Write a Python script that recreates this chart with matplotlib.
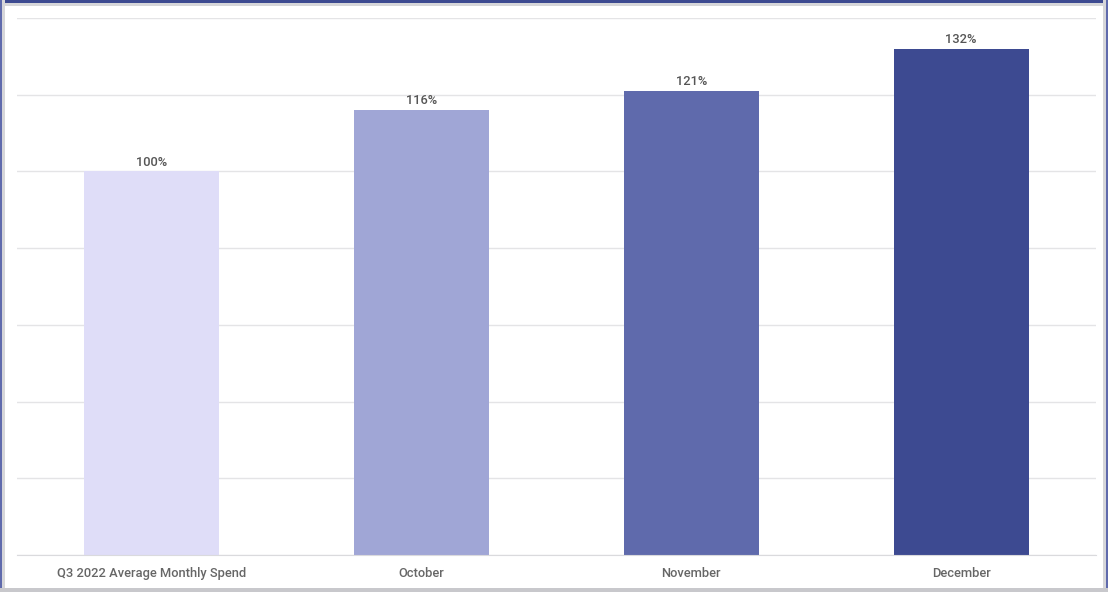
import matplotlib
matplotlib.use("Agg")
import matplotlib.pyplot as plt
from matplotlib.patches import Rectangle

categories = ["Q3 2022 Average Monthly Spend", "October", "November", "December"]
values = [100, 116, 121, 132]
colors = ["#DFDDF8", "#A0A6D6", "#5F6AAC", "#3D4A91"]

plt.rcParams["font.family"] = ["Roboto", "DejaVu Sans"]

W, H = 1108, 592
fig = plt.figure(figsize=(W / 100, H / 100), dpi=100)
fig.patch.set_facecolor("white")

# frame around the card
def px_rect(x, y, w, h, color):
    fig.patches.append(Rectangle((x / W, 1 - (y + h) / H), w / W, h / H,
                                 transform=fig.transFigure, color=color, zorder=0, lw=0))

px_rect(0, 0, W, 6, "#D6D6D9")
px_rect(0, 0, W, 3, "#3D4A91")
px_rect(0, 0, 5, H, "#D6D6D9")
px_rect(0, 0, 2, H, "#5F6AAC")
px_rect(W - 5, 0, 5, H, "#D6D6D9")
px_rect(W - 2, 0, 2, H, "#5F6AAC")
px_rect(0, H - 4, W, 4, "#C8C8CC")

ax = fig.add_axes([17 / W, 1 - 555 / H, 1079 / W, 537 / H])
x = range(len(categories))
bars = ax.bar(x, values, width=0.5, color=colors, zorder=2)
ax.set_xlim(-0.5, len(categories) - 0.5)
ax.set_ylim(0, 140)
ax.set_yticks(range(0, 141, 20))
ax.yaxis.grid(True, color="#E4E4E6", lw=1, zorder=0)
ax.tick_params(axis="y", left=False, labelleft=False)
ax.tick_params(axis="x", bottom=False, labelsize=9.3, labelcolor="#666666", pad=5)
ax.set_xticks(list(x))
ax.set_xticklabels(categories, fontweight="medium")
for side in ["top", "right", "left"]:
    ax.spines[side].set_visible(False)
ax.spines["bottom"].set_color("#DADADD")

for b, v in zip(bars, values):
    ax.annotate(f"{v}%", (b.get_x() + b.get_width() / 2, v), xytext=(0, 2),
                textcoords="offset points", ha="center", va="bottom",
                fontsize=9.3, color="#555555", fontweight="medium")

fig.savefig("out.png", dpi=100)
